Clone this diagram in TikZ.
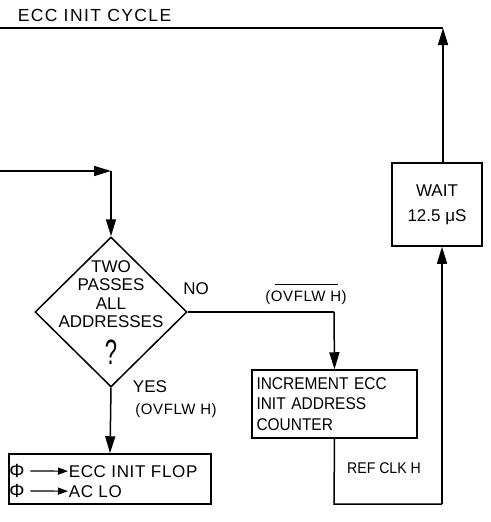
\documentclass[tikz,border=0pt]{standalone}
\usepackage{fontspec}
\usepackage{graphicx}
\setmainfont{Liberation Sans}
\newfontfamily\ltw{Liberation Sans}[LetterSpace=8]
\newfontfamily\lts{Liberation Sans}[LetterSpace=4]
\newfontfamily\ltn{Liberation Sans}[FakeStretch=0.91]
\usetikzlibrary{arrows.meta,shapes.geometric}
\begin{document}
\begin{tikzpicture}[x=1pt,y=-1pt, line width=1.5pt,
  arr/.style={-{Triangle[length=17pt,width=10pt]}},
  sarr/.style={line width=1.2pt,-{Triangle[length=10pt,width=7pt]}},
  lbl/.style={font=\fontsize{17}{18.5}\selectfont, inner sep=0pt},
  slbl/.style={font=\lts\fontsize{15}{16}\selectfont, inner sep=0pt},
  box/.style={draw, inner sep=0pt}]
\useasboundingbox (0,0) rectangle (490,522);

% title and top line
\node[lbl, font=\ltw\fontsize{17.5}{19}\selectfont, anchor=base west] (title) at (17,21) {ECC INIT CYCLE};
\coordinate (tl) at (0,28);
\coordinate (tr) at (443,28);
\draw (tl) -- (tr);

% wait box
\node[box, lbl, minimum width=90pt, minimum height=83pt, align=center, font=\fontsize{17}{25}\selectfont] (wait) at (437,204.5) {WAIT\\12.5 μS};
\draw[arr] (wait.north -| tr) -- (tr);

% entry
\coordinate (in) at (0,171);
\coordinate (c1) at (111,171);
\draw[arr] (in) -- (c1);

% decision
\node[draw, diamond, minimum width=152pt, minimum height=150pt, inner sep=0pt] (dia) at (111,312) {};
\draw[arr] (c1) -- (dia.north);
\node[lbl, align=center] (q) at (111,294) {TWO\\PASSES\\ALL\\ADDRESSES};
\node[lbl] (qm) at (111,352) {\scalebox{1}[1.6]{\fontsize{22}{22}\selectfont ?}};

\node[lbl] (no) at (196,289) {NO};
\node[slbl] (ovn) at (306,298) {(OVFLW H)};
\draw[line width=1.2pt] ([xshift=10pt,yshift=6pt]ovn.north west) -- ([xshift=-9pt,yshift=6pt]ovn.north east);

% increment box
\node[box, lbl, minimum width=165pt, minimum height=68pt, align=left, text width=156pt, font=\ltn\fontsize{17}{20.5}\selectfont] (inc) at (334.5,404) {INCREMENT ECC\\INIT ADDRESS\\COUNTER};
\coordinate (c2) at (334,312);
\draw (dia.east) -- (c2);
\draw[arr] (c2) -- (inc.north);

% return path
\coordinate (c3) at (334,504);
\coordinate (c4) at (442,504);
\draw (inc.south) -- (c3) -- (c4);
\draw[arr] (c4) -- (c4 |- wait.south);
\node[lbl, font=\ltn\fontsize{15.5}{16}\selectfont] (ref) at (384,468) {REF CLK H};

% yes branch
\node[lbl] (yes) at (150,387) {YES};
\node[slbl] (ovy) at (176,411) {(OVFLW H)};
\node[box, minimum width=202pt, minimum height=50pt] (fin) at (110,479) {};
\draw[arr] (dia.south) -- (fin.north);
\node[lbl, font=\fontsize{19}{19}\selectfont] (p1) at (17,471) {Φ};
\node[lbl, font=\fontsize{19}{19}\selectfont] (p2) at (17,491) {Φ};
\node[lbl, font=\lts\fontsize{17}{18}\selectfont, anchor=base west] (t1) at (68,477) {ECC INIT FLOP};
\node[lbl, font=\lts\fontsize{17}{18}\selectfont, anchor=base west] (t2) at (68,497) {AC LO};
\draw[sarr] ([xshift=5pt]p1.east) -- (t1.west);
\draw[sarr] ([xshift=5pt]p2.east) -- (t2.west);
\end{tikzpicture}
\end{document}
